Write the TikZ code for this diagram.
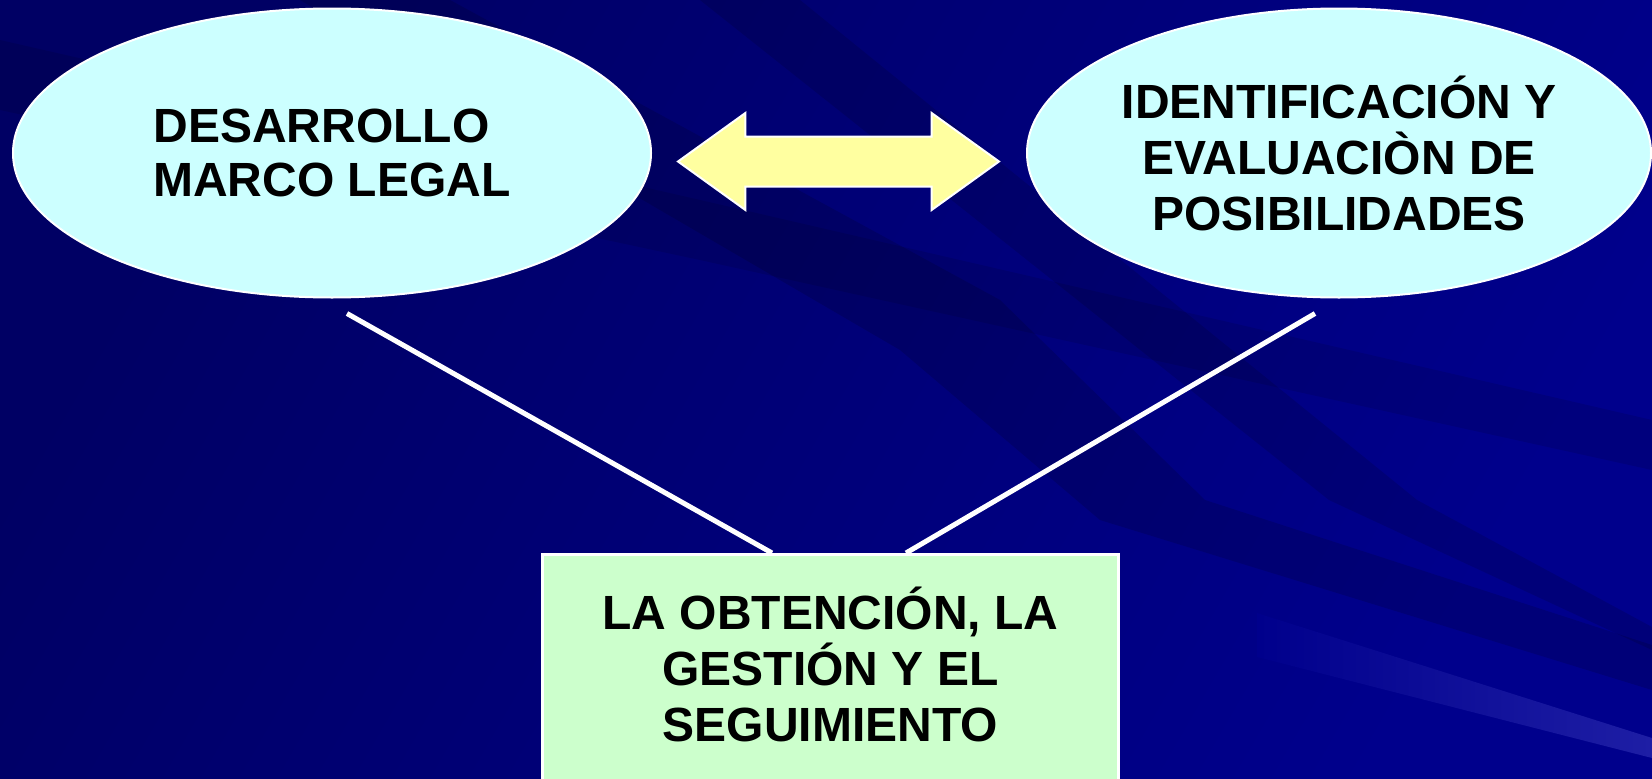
\documentclass[tikz,border=0pt]{standalone}
\usepackage{fontspec}
\setmainfont{Liberation Sans}
\usetikzlibrary{shapes.geometric, shapes.arrows, positioning, calc}

\definecolor{navybg}{RGB}{0,0,140}
\definecolor{navydark}{RGB}{0,0,100}
\definecolor{streaklight}{RGB}{30,30,165}
\definecolor{ovalfill}{RGB}{204,255,255}
\definecolor{boxfill}{RGB}{204,255,204}
\definecolor{arrowfill}{RGB}{255,255,160}

\begin{document}
\begin{tikzpicture}[
        x=1pt, y=-1pt,
        oval/.style={ellipse, draw=white, line width=2pt, fill=ovalfill, inner sep=0pt,
        minimum width=638pt, minimum height=289pt,
        font=\fontsize{48}{56}\selectfont\bfseries},
        resultbox/.style={rectangle,
        draw=white,
        fill=boxfill,
        line width=2.5pt,
        anchor=north,
        minimum width=576pt,
        inner ysep=33pt,
        align=center,
        font=\fontsize{48}{56}\selectfont\bfseries},
        bigarrow/.style={double arrow, draw=white, line width=2pt, fill=arrowfill,
        inner sep=0pt, inner ysep=24pt, minimum height=321pt, minimum width=95pt,
        double arrow head extend=23.5pt, double arrow tip angle=71.5},
        link/.style={draw=white, line width=5pt}
    ]

    % --- BACKGROUND ---
    \clip (0,0) rectangle (1652,779);
    \shade[left color=navydark, right color=navybg, shading angle=60] (0,0) rectangle (1652,779);
    \fill[black, opacity=0.14] (450,0) -- (1000,300) -- (1205,500) -- (1652,645) -- (1652,690) -- (1100,520) -- (900,350) -- (300,0) -- cycle;
    \fill[black, opacity=0.13] (800,0) -- (1417,500) -- (1652,627) -- (1652,650) -- (1329,500) -- (700,0) -- cycle;
    \fill[black, opacity=0.10] (0,40) -- (700,200) -- (1652,420) -- (1652,470) -- (700,260) -- (0,110) -- cycle;
    \shade[left color=navybg, right color=streaklight] (1257,613) -- (1652,738) -- (1652,758) -- (1257,657) -- cycle;

    % --- OVALS ---
    \node (legal) [oval, align=left, font=\fontsize{48}{54}\selectfont\bfseries] at (332,153) {DESARROLLO\\MARCO LEGAL};
    \node (posib) [oval, align=center, minimum width=624pt] at (1339,153) {IDENTIFICACIÓN Y\\EVALUACIÒN DE\\POSIBILIDADES};

    % --- DOUBLE ARROW ---
    \node (both) [bigarrow] at (838.5,161.5) {};

    % --- RESULT BOX ---
    \node (result) [resultbox] at (830.5,553) {LA OBTENCIÓN, LA\\GESTIÓN Y EL\\SEGUIMIENTO\rule[-30pt]{0pt}{30pt}};

    % --- LINKS ---
    \draw [link] ($(legal.south)+(15,15)$) -- ($(result.north)+(-58.5,0)$);
    \draw [link] ($(posib.south)+(-24,15)$) -- ($(result.north)+(75.5,0)$);

\end{tikzpicture}
\end{document}
